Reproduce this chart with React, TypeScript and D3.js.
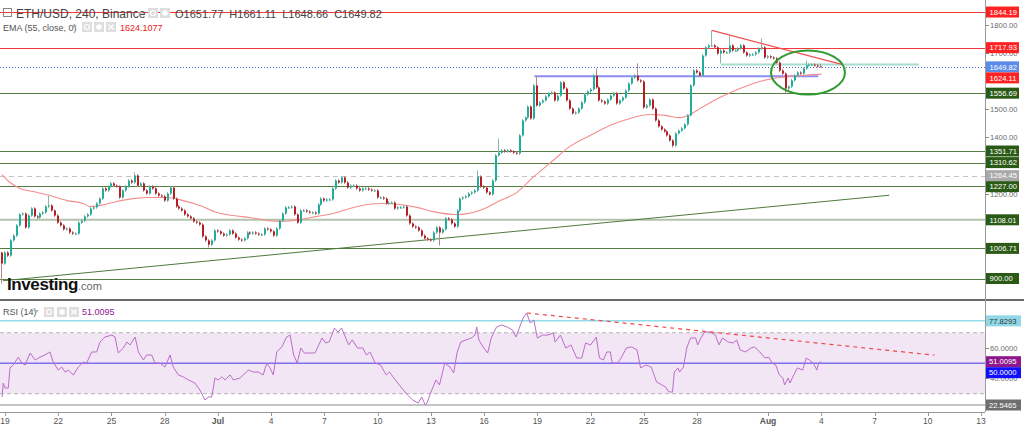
import React from "react";
import * as d3 from "d3";

// ---------- DATA ----------
const firstCandleUtc = Date.UTC(2022, 5, 18, 20); // 4h candles
const candleHours = 4;
const firstOpen = 992;
const closes: number[] = [
  953, 992, 981, 1035, 1052, 1088, 1127, 1130, 1081, 1123,
  1148, 1120, 1116, 1130, 1134, 1155, 1159, 1141, 1123, 1098,
  1088, 1074, 1077, 1063, 1059, 1059, 1098, 1105, 1120, 1127,
  1148, 1152, 1166, 1183, 1219, 1212, 1226, 1237, 1229, 1226,
  1187, 1212, 1226, 1247, 1240, 1265, 1229, 1237, 1212, 1201,
  1226, 1219, 1201, 1194, 1191, 1176, 1201, 1222, 1183, 1155,
  1148, 1141, 1127, 1120, 1113, 1102, 1098, 1091, 1049, 1035,
  1020, 1035, 1070, 1067, 1059, 1052, 1056, 1070, 1059, 1045,
  1038, 1035, 1042, 1063, 1059, 1063, 1059, 1056, 1056, 1077,
  1074, 1067, 1052, 1077, 1105, 1130, 1152, 1152, 1155, 1127,
  1098, 1141, 1141, 1137, 1134, 1134, 1130, 1162, 1183, 1176,
  1180, 1180, 1219, 1247, 1240, 1258, 1240, 1222, 1229, 1229,
  1219, 1212, 1219, 1219, 1215, 1212, 1212, 1187, 1187, 1183,
  1166, 1169, 1169, 1148, 1152, 1152, 1155, 1123, 1095, 1084,
  1081, 1070, 1052, 1042, 1038, 1035, 1063, 1081, 1063, 1074,
  1113, 1109, 1095, 1084, 1141, 1183, 1187, 1191, 1201, 1205,
  1212, 1261, 1226, 1222, 1205, 1198, 1247, 1336, 1346, 1354,
  1350, 1354, 1350, 1346, 1343, 1407, 1460, 1470, 1509, 1467,
  1584, 1513, 1524, 1531, 1545, 1556, 1559, 1531, 1548, 1595,
  1573, 1531, 1502, 1485, 1488, 1502, 1524, 1552, 1563, 1570,
  1619, 1577, 1531, 1527, 1520, 1534, 1548, 1556, 1520, 1531,
  1541, 1566, 1591, 1612, 1619, 1602, 1598, 1506, 1513, 1534,
  1502, 1460, 1439, 1428, 1421, 1407, 1389, 1371, 1414, 1424,
  1432, 1446, 1478, 1584, 1637, 1630, 1619, 1690, 1719, 1726,
  1726, 1719, 1697, 1708, 1701, 1701, 1726, 1708, 1708, 1715,
  1726, 1701, 1690, 1694, 1694, 1701, 1715, 1719, 1683, 1687,
  1683, 1680, 1665, 1637, 1626, 1573, 1580, 1602, 1619, 1630,
  1626, 1644, 1655, 1658, 1658, 1655, 1651.77, 1649.82,
];
const typicalWick = 5;
const wickHighs: [number, number][] = [
  [0, 995], [16, 1194], [45, 1276], [161, 1283], [168, 1396], [181, 1619],
  [201, 1644], [215, 1662], [240, 1779], [246, 1761], [257, 1751], [272, 1672], [277, 1661.11],
];
const wickLows: [number, number][] = [
  [0, 882], [70, 1010], [148, 1017], [227, 1364], [243, 1662], [265, 1556], [277, 1648.66],
];
// EMA(55): [candle index, value]
const emaPoints: [number, number][] = [
  [0, 1268], [2.7, 1240], [6.1, 1219], [10.5, 1208], [16.2, 1194], [22, 1176], [27.4, 1166],
  [29.7, 1155], [33.1, 1159], [38.9, 1173], [44.3, 1183], [50, 1187], [55.8, 1187], [61.2, 1176],
  [66.9, 1159], [72.7, 1134], [78.1, 1123], [83.8, 1116], [89.6, 1106], [95, 1102], [100.7, 1109],
  [106.5, 1120], [111.9, 1130], [117.6, 1148], [123.4, 1162], [128.8, 1166], [134.6, 1162],
  [140.3, 1152], [145.7, 1137], [153.8, 1127], [157.2, 1130], [164, 1152], [168.4, 1176],
  [174.1, 1205], [179.5, 1258], [186.3, 1318], [192, 1368], [198.8, 1407], [205.5, 1442],
  [212.3, 1467], [219.1, 1481], [224.1, 1478], [229.2, 1470], [232.6, 1481], [236, 1502],
  [242.7, 1541], [249.5, 1573], [256.2, 1598], [263, 1612], [269.8, 1619], [277, 1624.11],
];
// RSI(14): [candle index, value]
const rsiPoints: [number, number][] = [
  [0, 27.8], [0.4, 37], [1, 33.7], [2.1, 33.7], [2.7, 46.9], [3.8, 48.8], [5.5, 54], [6.7, 50.1], [7.8, 48.8], [9.5, 56.7],
  [11.2, 52.1], [12.8, 54], [14.5, 55.4], [16.2, 57.4], [17.3, 50.8], [19, 45.5], [20.2, 47.5], [21.3, 44.2], [22.4, 45.5], [24.1, 42.3],
  [25.8, 47.5], [27.5, 50.8], [28.6, 50.1], [30.3, 57.4], [32, 57.4], [33.1, 63.9], [34.8, 67.2], [37.1, 68.5], [38.2, 67.2], [39.3, 56.7],
  [41, 60], [42.2, 63.9], [43.3, 62], [45, 67.2], [46.1, 57.4], [47.8, 52.1], [48.9, 55.4], [50.6, 55.4], [51.7, 50.1], [53.4, 50.1],
  [55.1, 47.5], [56.8, 55.4], [57.9, 47.5], [59.6, 42.3], [61.3, 41], [63, 39], [65.2, 37], [66.9, 32.4], [68.6, 25.8], [69.7, 27.8],
  [70.9, 27.8], [72, 40.3], [73.1, 39], [74.3, 41], [75.4, 39], [77.1, 42.3], [78.2, 39], [80.5, 40.3], [83.3, 45.5], [85, 44.2],
  [86.6, 44.2], [88.3, 42.3], [89.5, 50.1], [90.6, 46.9], [91.7, 42.3], [92.9, 57.4], [94.6, 60.7], [96.2, 67.2], [97.4, 68.5], [98.6, 55.4],
  [99.8, 50.1], [101, 60], [102.2, 56.7], [104, 56.7], [105.8, 56.7], [108.2, 66.6], [109.4, 63.3], [110.6, 64], [112.4, 73.1], [113.6, 70.5],
  [114.8, 73.1], [117.2, 62], [118.4, 65.3], [120.2, 60], [122, 60], [123.2, 55.4], [124.4, 57.4], [126.2, 50.1], [128, 48.8], [129.9, 42.3],
  [131, 44.2], [133.5, 37.7], [137.1, 29.1], [138.9, 25.8], [140.7, 23.9], [141.9, 27.8], [143.1, 22.55], [143.7, 23.9], [144.9, 30.4], [146.7, 39],
  [147.9, 35.7], [149.7, 50.1], [151.5, 47.5], [152.7, 43.6], [153.9, 57.4], [155.1, 63.9], [156.9, 65.3], [158.7, 66.6], [159.9, 68.5], [160.5, 73.8],
  [161.2, 65.3], [162.9, 60], [164.2, 56.7], [165.4, 66.6], [167.2, 73.8], [169, 75.1], [170.8, 73.8], [172.6, 71.8], [173.8, 67.2], [175, 73.8],
  [176.2, 79.7], [177.4, 83], [178.6, 76.4], [179.8, 78.4], [181, 66.6], [182.8, 68.5], [184.6, 68.5], [186.4, 69.9], [187, 63.9], [188.8, 68.5],
  [190.6, 60], [192.4, 62], [194.3, 53.4], [196, 53.4], [197.3, 63.3], [199, 62], [200.9, 67.2], [202, 53.4], [203.3, 52.1], [204.5, 57.4],
  [205.7, 57.4], [206.3, 50.1], [208.1, 50.1], [209.3, 53.4], [211.1, 60], [212.9, 60.7], [214.7, 58.7], [215.9, 46.9], [217.7, 48.8], [219.5, 47.5],
  [221.3, 37.7], [223.1, 35.7], [224.3, 34.4], [225.5, 31.1], [226.7, 31.1], [227.3, 44.2], [228.5, 46.9], [229.1, 44.2], [230.4, 47.5], [231.5, 60],
  [232.8, 66.6], [234.5, 66.6], [235.2, 62], [236.3, 66.6], [237.6, 70.5], [239.4, 70.5], [241.2, 68.5], [242.4, 62], [243.6, 66.6], [245.4, 64],
  [247.2, 63.3], [248.4, 65.3], [249.6, 58.7], [251.4, 57.4], [253.2, 60], [254.4, 60.7], [256.2, 57.4], [258, 53.4], [259.2, 54], [260.4, 50.1],
  [261.6, 48.8], [262.8, 42.3], [264, 40.3], [264.6, 35.7], [265.8, 40.3], [266.4, 37], [267.7, 42.3], [268.9, 46.9], [270.7, 45.5], [271.9, 53.4],
  [273, 52.1], [274.3, 50.1], [275.5, 45.5], [276.1, 50.1], [277, 51.0095],
];

const redLevels = [1844.19, 1717.93];
const greenLevels = [1556.69, 1351.71, 1310.62, 1227.0, 1006.71, 900.0];
const paleGreenLevels = [1108.01];
const dashedLevels = [1264.45];
const lastClose = 1649.82;
const emaLast = 1624.11;
const priceTicks = [900, 1000, 1100, 1200, 1300, 1400, 1500, 1600, 1700, 1800];

const rsiLevels = { upper: 70, middle: 50, lower: 30, cyan: 77.8293, low: 22.5465, last: 51.0095 };
const rsiTicks = [40, 60];

const xTickDates = [
  "2022-06-19", "2022-06-22", "2022-06-25", "2022-06-28", "2022-07-01", "2022-07-04", "2022-07-07",
  "2022-07-10", "2022-07-13", "2022-07-16", "2022-07-19", "2022-07-22", "2022-07-25", "2022-07-28",
  "2022-08-01", "2022-08-04", "2022-08-07", "2022-08-10", "2022-08-13",
];
const xTickLabels = ["19", "22", "25", "28", "Jul", "4", "7", "10", "13", "16", "19", "22", "25", "28", "Aug", "4", "7", "10", "13"];

// drawings: [time, value]
const supportTrend: [string, number][] = [["2022-06-18T21:00Z", 892], ["2022-08-07T20:00Z", 1195]];
const resistTrend: [string, number][] = [["2022-07-28T20:00Z", 1779], ["2022-08-05T05:00Z", 1658]];
const blueSegment: [string, number][] = [["2022-07-18T20:00Z", 1617], ["2022-08-03T20:00Z", 1617]];
const tealSegment: [string, number][] = [["2022-07-29T08:00Z", 1658], ["2022-08-09T12:00Z", 1658]];
const ellipseCenter: [string, number] = ["2022-08-03T06:00Z", 1630];
const ellipseHalfHours = 50;
const ellipseHalfPrice = 78;
const rsiTrend: [string, number][] = [["2022-07-18T10:00Z", 83], ["2022-08-10T09:00Z", 55.3]];

const legend = { open: "1651.77", high: "1661.11", low: "1648.66", close: "1649.82", ema: "1624.1077", rsi: "51.0095" };

// ---------- COMPONENT ----------
const FONT = "'Liberation Sans', Arial, sans-serif";
const RED = "#ff2222";
const GREEN_LBL = "#2b5a17";
const GREEN_LINE = "#557d43";
const AXIS_FS = 7.6;

function stackLabels<T extends { y: number }>(items: T[], h: number): T[] {
  const s = [...items].sort((a, b) => a.y - b.y);
  for (let k = 1; k < s.length; k++) {
    if (s[k].y - s[k - 1].y < h) s[k].y = s[k - 1].y + h;
  }
  return s;
}

function Caret({ x, y }: { x: number; y: number }) {
  return <path d={`M${x},${y} l6,0 l-3,3 z`} fill="#b0b0b0" />;
}
function IconBox({ x, y, kind }: { x: number; y: number; kind: string }) {
  return (
    <g>
      <rect x={x} y={y} width={10} height={10} fill="#dedede" />
      {kind === "eye" && <circle cx={x + 5} cy={y + 5} r={2.5} fill="none" stroke="#fff" strokeWidth={1.2} />}
      {kind === "gear" && <circle cx={x + 5} cy={y + 5} r={2.8} fill="#fff" />}
      {kind === "x" && (
        <path d={`M${x + 2.5},${y + 2.5} L${x + 7.5},${y + 7.5} M${x + 7.5},${y + 2.5} L${x + 2.5},${y + 7.5}`} stroke="#fff" strokeWidth={1.4} />
      )}
    </g>
  );
}

export default function App() {
  const plotRight = 985;
  const x = d3.scaleUtc().domain([Date.UTC(2022, 5, 19), Date.UTC(2022, 7, 13)]).range([5, 981]);
  const y = d3.scaleLinear().domain([900, 1800]).range([278.5, 24.5]);
  const yr = d3.scaleLinear().domain([22.5465, 60]).range([405, 348]);
  const tOf = (i: number) => new Date(firstCandleUtc + i * candleHours * 3600e3);
  const xi = (i: number) => x(tOf(i));
  const xd = (s: string) => x(new Date(s));

  const hiMap = new Map(wickHighs);
  const loMap = new Map(wickLows);
  const candles = closes.map((c, i) => {
    const o = i === 0 ? firstOpen : closes[i - 1];
    const hi = hiMap.get(i) ?? Math.max(o, c) + typicalWick;
    const lo = loMap.get(i) ?? Math.min(o, c) - typicalWick;
    return { o, c, hi, lo, i };
  });

  const emaPath = d3
    .line<[number, number]>()
    .x((d) => xi(d[0]))
    .y((d) => y(d[1]))
    .curve(d3.curveMonotoneX)(emaPoints) as string;
  const rsiPath = d3
    .line<[number, number]>()
    .x((d) => xi(d[0]))
    .y((d) => yr(d[1]))(rsiPoints) as string;

  const mainLabels = stackLabels(
    [
      ...redLevels.map((v) => ({ v, y: y(v), bg: RED, fg: "#fff" })),
      { v: lastClose, y: y(lastClose), bg: "#5b8be6", fg: "#fff" },
      { v: emaLast, y: y(emaLast), bg: RED, fg: "#fff" },
      ...greenLevels.map((v) => ({ v, y: y(v), bg: GREEN_LBL, fg: "#fff" })),
      ...paleGreenLevels.map((v) => ({ v, y: y(v), bg: GREEN_LBL, fg: "#fff" })),
      ...dashedLevels.map((v) => ({ v, y: y(v), bg: "#a9a9a9", fg: "#fff" })),
    ],
    11
  );
  const rsiLabels = stackLabels(
    [
      { v: rsiLevels.cyan, y: yr(rsiLevels.cyan), bg: "#8fd9e6", fg: "#333" },
      { v: rsiLevels.last, y: yr(rsiLevels.last), bg: "#8e178e", fg: "#fff" },
      { v: rsiLevels.middle, y: yr(rsiLevels.middle), bg: "#1010ff", fg: "#fff" },
      { v: rsiLevels.low, y: yr(rsiLevels.low), bg: "#6e6e6e", fg: "#fff" },
    ],
    11
  );
  // a tick label is hidden when a price label box sits right on it (as in the terminal)
  const hidden = (ty: number, labels: { y: number }[]) => labels.some((l) => Math.abs(l.y - ty) < 4.5);

  const ex = xd(ellipseCenter[0]);
  const ey = y(ellipseCenter[1]);
  const erx = x(new Date(new Date(ellipseCenter[0]).getTime() + ellipseHalfHours * 3600e3)) - ex;
  const ery = y(ellipseCenter[1] - ellipseHalfPrice) - ey;

  return (
    <svg width={1024} height={426} style={{ position: "absolute", left: 0, top: 0, background: "#fff" }} fontFamily={FONT}>
      <defs>
        <clipPath id="main">
          <rect x={0} y={0} width={plotRight} height={299} />
        </clipPath>
        <clipPath id="rsi">
          <rect x={0} y={301} width={plotRight} height={111} />
        </clipPath>
      </defs>
      <rect x={0} y={0} width={1024} height={426} fill="#fff" />

      {/* ---------- main pane ---------- */}
      <g clipPath="url(#main)">
        {greenLevels.map((v) => (
          <line key={v} x1={0} x2={plotRight} y1={Math.round(y(v)) + 0.5} y2={Math.round(y(v)) + 0.5} stroke={GREEN_LINE} strokeWidth={1} />
        ))}
        {paleGreenLevels.map((v) => (
          <line key={v} x1={0} x2={plotRight} y1={y(v)} y2={y(v)} stroke="#b3c3ad" strokeWidth={2} />
        ))}
        {dashedLevels.map((v) => (
          <line key={v} x1={0} x2={plotRight} y1={Math.round(y(v)) + 0.5} y2={Math.round(y(v)) + 0.5} stroke="#c4c4c4" strokeWidth={1} strokeDasharray="5 4" />
        ))}
        {redLevels.map((v) => (
          <line key={v} x1={0} x2={plotRight} y1={Math.round(y(v)) + 0.5} y2={Math.round(y(v)) + 0.5} stroke="#f23a3a" strokeWidth={1} />
        ))}
        <line x1={0} x2={plotRight} y1={Math.round(y(lastClose)) + 0.5} y2={Math.round(y(lastClose)) + 0.5} stroke="#3f63d8" strokeWidth={1} strokeDasharray="1 2" />

        <line x1={xd(supportTrend[0][0])} y1={y(supportTrend[0][1])} x2={xd(supportTrend[1][0])} y2={y(supportTrend[1][1])} stroke="#4e7a3c" strokeWidth={1} />
        <line x1={xd(blueSegment[0][0])} y1={y(blueSegment[0][1])} x2={xd(blueSegment[1][0])} y2={y(blueSegment[1][1])} stroke="#8c8cf5" strokeWidth={2} />
        <line x1={xd(tealSegment[0][0])} y1={y(tealSegment[0][1])} x2={xd(tealSegment[1][0])} y2={y(tealSegment[1][1])} stroke="#a6dccb" strokeWidth={2} />

        <path d={emaPath} fill="none" stroke="#f58d8d" strokeWidth={1.1} />

        {candles.map((k) => {
          const cx = Math.round(xi(k.i));
          const up = k.c >= k.o;
          const top = y(Math.max(k.o, k.c));
          const bot = y(Math.min(k.o, k.c));
          return (
            <g key={k.i}>
              <line x1={cx - 0.5} x2={cx - 0.5} y1={y(k.hi)} y2={y(k.lo)} stroke={up ? "#8fb5aa" : "#b58a8a"} strokeWidth={1} />
              <rect x={cx - 1} y={top} width={2} height={Math.max(1, bot - top)} fill={up ? "#1fae9b" : "#b81d24"} />
            </g>
          );
        })}

        <line x1={xd(resistTrend[0][0])} y1={y(resistTrend[0][1])} x2={xd(resistTrend[1][0])} y2={y(resistTrend[1][1])} stroke="#f25050" strokeWidth={1.2} />
        <ellipse cx={ex} cy={ey} rx={erx} ry={ery} fill="none" stroke="#2f9a2f" strokeWidth={2} />
      </g>

      {/* legend main */}
      <rect x={3.5} y={8.5} width={8} height={8} fill="none" stroke="#888" />
      <text x={16} y={17.5} fontSize={12} fill="#444">ETH/USD, 240, Binance</text>
      <Caret x={137} y={12} />
      <IconBox x={148} y={8} kind="eye" />
      <IconBox x={160} y={8} kind="gear" />
      <text x={175} y={17.5} fontSize={11} fill="#444">
        <tspan>O{legend.open}</tspan>
        <tspan dx={6}>H{legend.high}</tspan>
        <tspan dx={6}>L{legend.low}</tspan>
        <tspan dx={6}>C{legend.close}</tspan>
      </text>
      <text x={3} y={30.5} fontSize={9} fill="#555">EMA (55, close, 0)</text>
      <Caret x={71} y={25} />
      <IconBox x={82} y={22} kind="eye" />
      <IconBox x={94} y={22} kind="gear" />
      <IconBox x={106} y={22} kind="x" />
      <text x={120} y={30.5} fontSize={9} fill="#f01818">{legend.ema}</text>

      {/* Investing.com logo */}
      <text x={7} y={290} fontSize={17} fontWeight={700} fill="#111" letterSpacing={-0.4}>
        Investing
        <tspan fontSize={11} fontWeight={400} fill="#666" letterSpacing={0}>.com</tspan>
      </text>

      {/* ---------- RSI pane ---------- */}
      <g clipPath="url(#rsi)">
        <rect x={0} y={yr(rsiLevels.upper)} width={plotRight} height={yr(rsiLevels.lower) - yr(rsiLevels.upper)} fill="#f3e6f4" />
        <line x1={0} x2={plotRight} y1={yr(rsiLevels.upper)} y2={yr(rsiLevels.upper)} stroke="#b5b5b5" strokeDasharray="4 3" />
        <line x1={0} x2={plotRight} y1={yr(rsiLevels.lower)} y2={yr(rsiLevels.lower)} stroke="#b5b5b5" strokeDasharray="4 3" />
        <line x1={0} x2={plotRight} y1={yr(rsiLevels.middle)} y2={yr(rsiLevels.middle)} stroke="#7d6ff0" strokeWidth={1.5} />
        <line x1={0} x2={plotRight} y1={yr(rsiLevels.cyan)} y2={yr(rsiLevels.cyan)} stroke="#92dbe6" strokeWidth={1.5} />
        <line x1={0} x2={plotRight} y1={yr(rsiLevels.low)} y2={yr(rsiLevels.low)} stroke="#8a8a8a" strokeWidth={1} />
        <path d={rsiPath} fill="none" stroke="#bb6dca" strokeWidth={1} />
        <line x1={xd(rsiTrend[0][0])} y1={yr(rsiTrend[0][1])} x2={xd(rsiTrend[1][0])} y2={yr(rsiTrend[1][1])} stroke="#f04848" strokeWidth={1.2} strokeDasharray="4 4" />
      </g>
      <text x={3} y={315} fontSize={9} fill="#555">RSI (14)</text>
      <Caret x={33} y={310} />
      <IconBox x={44} y={307} kind="eye" />
      <IconBox x={57} y={307} kind="gear" />
      <IconBox x={69} y={307} kind="x" />
      <text x={82} y={315} fontSize={9} fill="#8e178e">{legend.rsi}</text>

      {/* separators & axes */}
      <line x1={0} x2={1024} y1={300} y2={300} stroke="#6a6a6a" strokeWidth={2} />
      <line x1={plotRight + 0.5} x2={plotRight + 0.5} y1={0} y2={412} stroke="#9a9a9a" />
      <line x1={0} x2={plotRight} y1={412.5} y2={412.5} stroke="#9a9a9a" />

      {/* price axis ticks */}
      {priceTicks.map((v) => (
        <g key={v}>
          <line x1={plotRight} x2={plotRight + 4} y1={Math.round(y(v)) + 0.5} y2={Math.round(y(v)) + 0.5} stroke="#888" />
          {!hidden(y(v), mainLabels) && (
            <text x={990} y={y(v) + 3} fontSize={AXIS_FS} fill="#6a6a6a">{v.toFixed(2)}</text>
          )}
        </g>
      ))}
      {rsiTicks.map((v) => (
        <g key={v}>
          <line x1={plotRight} x2={plotRight + 4} y1={Math.round(yr(v)) + 0.5} y2={Math.round(yr(v)) + 0.5} stroke="#888" />
          {!hidden(yr(v), rsiLabels) && (
            <text x={990} y={yr(v) + 3} fontSize={AXIS_FS} fill="#6a6a6a">{v.toFixed(4)}</text>
          )}
        </g>
      ))}
      {mainLabels.map((l) => (
        <g key={l.v}>
          <rect x={986} y={l.y - 5.5} width={33} height={11} fill={l.bg} />
          <text x={989.5} y={l.y + 2.8} fontSize={AXIS_FS} fill={l.fg}>{l.v.toFixed(2)}</text>
        </g>
      ))}
      {rsiLabels.map((l) => (
        <g key={l.v}>
          <rect x={986} y={l.y - 5.5} width={35} height={11} fill={l.bg} />
          <text x={989} y={l.y + 2.8} fontSize={AXIS_FS} fill={l.fg}>{l.v.toFixed(4)}</text>
        </g>
      ))}

      {/* time axis */}
      {xTickDates.map((d, k) => {
        const px = x(new Date(d + "T00:00Z"));
        const bold = xTickLabels[k] === "Jul" || xTickLabels[k] === "Aug";
        return (
          <g key={d}>
            <line x1={Math.round(px) + 0.5} x2={Math.round(px) + 0.5} y1={413} y2={416} stroke="#999" />
            <text x={px} y={423.5} fontSize={8.5} textAnchor="middle" fill="#555" fontWeight={bold ? 700 : 400}>
              {xTickLabels[k]}
            </text>
          </g>
        );
      })}
    </svg>
  );
}
